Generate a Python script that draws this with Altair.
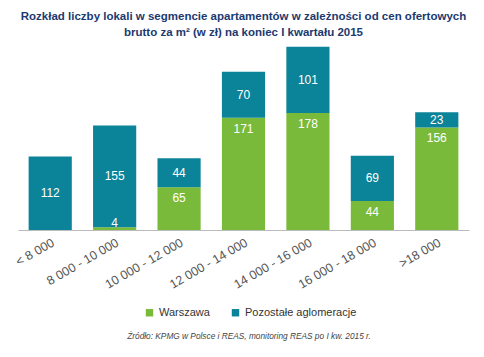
import altair as alt
import pandas as pd

categories = ["< 8 000", "8 000 - 10 000", "10 000 - 12 000", "12 000 - 14 000",
              "14 000 - 16 000", "16 000 - 18 000", ">18 000"]
warszawa = [0, 4, 65, 171, 178, 44, 156]
pozostale = [112, 155, 44, 70, 101, 69, 23]
series = ["Warszawa", "Pozostałe aglomeracje"]
colors = ["#7aba3a", "#0b8398"]

rows = []
for c, w, p in zip(categories, warszawa, pozostale):
    rows.append({"cat": c, "series": series[0], "value": w, "ord": 0, "w": w, "p": p})
    rows.append({"cat": c, "series": series[1], "value": p, "ord": 1, "w": w, "p": p})
df = pd.DataFrame(rows)

x = alt.X("cat:N", sort=categories, title=None,
          scale=alt.Scale(paddingInner=0.33, paddingOuter=0.165),
          axis=alt.Axis(labelAngle=-30, labelAlign="right", labelBaseline="top",
                        labelPadding=6, ticks=False, labelFontSize=12.5,
                        labelColor="#555555", labelFont="Liberation Sans",
                        domainColor="#bbbbbb", domainWidth=1))
yscale = alt.Scale(domain=[0, 280], nice=False)

bars = alt.Chart(df).mark_bar().encode(
    x=x,
    y=alt.Y("value:Q", stack="zero", scale=yscale, axis=None),
    color=alt.Color("series:N", sort=series,
                    scale=alt.Scale(domain=series, range=colors),
                    legend=alt.Legend(title=None, orient="none", direction="horizontal",
                                      legendX=126, legendY=261, symbolType="square",
                                      symbolSize=55, labelFontSize=11,
                                      labelColor="#333333", labelFont="Liberation Sans",
                                      columnPadding=20, symbolStrokeWidth=0)),
    order=alt.Order("ord:Q"),
)

green_labels = alt.Chart(df).transform_filter(
    "datum.ord == 0 && datum.value > 0"
).transform_calculate(
    ly="datum.w < 20 ? 27 : datum.w"
).mark_text(color="white", fontSize=12, dy=11, baseline="middle",
            font="Liberation Sans").encode(
    x=alt.X("cat:N", sort=categories),
    y=alt.Y("ly:Q", scale=yscale),
    text="value:Q",
)

teal_labels = alt.Chart(df).transform_filter(
    "datum.ord == 1"
).transform_calculate(
    ly="datum.w + datum.p / 2"
).mark_text(color="white", fontSize=12, baseline="middle",
            font="Liberation Sans").encode(
    x=alt.X("cat:N", sort=categories),
    y=alt.Y("ly:Q", scale=yscale),
    text="value:Q",
)

source = alt.Chart(pd.DataFrame({"t": ["Źródło: KPMG w Polsce i REAS, monitoring REAS po I kw. 2015 r."]})).mark_text(
    fontSize=8.3, fontStyle="italic", color="#444444", font="Liberation Sans"
).encode(
    x=alt.value(231), y=alt.value(291), text="t:N"
)

chart = alt.layer(bars, green_labels, teal_labels, source).properties(
    width=451, height=184,
    autosize=alt.AutoSizeParams(type="none"),
    padding={"left": 10, "top": 38, "right": 5, "bottom": 116},
    title=alt.Title(
        ["Rozkład liczby lokali w segmencie apartamentów w zależności od cen ofertowych",
         "brutto za m² (w zł) na koniec I kwartału 2015"],
        anchor="middle", fontSize=11.5, font="Liberation Sans", fontWeight="bold",
        color="#1c3a70", offset=8, lineHeight=16),
).configure_view(stroke=None)

chart.save("out.html", embed_options={"renderer": "svg", "actions": False})
